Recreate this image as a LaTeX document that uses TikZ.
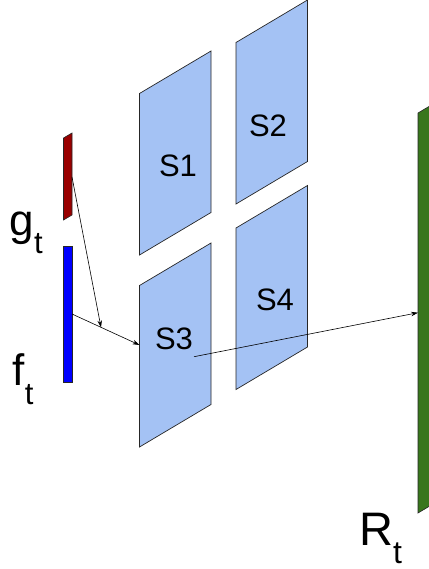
\documentclass[tikz,border=0pt]{standalone}
\usepackage{fontspec}
\setmainfont{Liberation Sans}
\usetikzlibrary{arrows.meta}
\definecolor{panelblue}{HTML}{A4C2F4}
\definecolor{redbar}{HTML}{990000}
\definecolor{bluebar}{HTML}{0000FF}
\definecolor{greenbar}{HTML}{38761D}
\begin{document}
\begin{tikzpicture}[x=1pt,y=-1pt,
  panel/.style={fill=panelblue, draw=black!85, line width=0.7pt},
  bar/.style={draw=black!85, line width=0.6pt},
  conn/.style={-{Stealth[length=7pt,width=4.5pt]}, line width=0.6pt},
  slabel/.style={inner sep=0pt, font=\fontsize{31}{31}\selectfont},
  biglabel/.style={inner sep=0pt, anchor=base west}]
\useasboundingbox (0,0) rectangle (428,569);
% panels
\draw[panel] (139.5,93.5) -- ++(71.5,-42.5) -- ++(0,161.5) -- ++(-71.5,42.5) -- cycle;
\draw[panel] (236,42.5) -- ++(71.5,-42.5) -- ++(0,161.5) -- ++(-71.5,42.5) -- cycle;
\draw[panel] (139.5,285.5) -- ++(71.5,-42.5) -- ++(0,161.5) -- ++(-71.5,42.5) -- cycle;
\draw[panel] (236,228) -- ++(71.5,-42.5) -- ++(0,161.5) -- ++(-71.5,42.5) -- cycle;
\node[slabel] (s1) at (178,166) {S1};
\node[slabel] (s2) at (268,126) {S2};
\node[slabel] (s3) at (174,339) {S3};
\node[slabel] (s4) at (275,300) {S4};
% bars
\draw[bar, fill=redbar] (63.5,138) -- (72,133) -- (72,215) -- (63.5,220) -- cycle;
\draw[bar, fill=bluebar] (63.5,246) rectangle (72,382);
\draw[bar, fill=greenbar] (418,113) -- (434,103.5) -- (434,503.5) -- (418,513) -- cycle;
% labels
\node[biglabel] (gt) at (9.5,235.5) {\fontsize{44}{44}\selectfont g\raisebox{-18pt}{\fontsize{31}{31}\selectfont t}};
\node[biglabel] (ft) at (12.5,385) {\fontsize{44}{44}\selectfont f\raisebox{-19pt}{\fontsize{31}{31}\selectfont t}};
\node[biglabel] (rt) at (359,545) {\fontsize{47}{47}\selectfont R\raisebox{-18pt}{\fontsize{32}{32}\selectfont t}};
% connectors
\coordinate (rsrc) at (72,177);
\coordinate (bsrc) at (72,314);
\coordinate (s3in) at (139.5,345);
\coordinate (mid) at (101,327.4);
\coordinate (s3out) at (194,356.7);
\coordinate (rin) at (418,312.7);
\draw[conn] (rsrc) -- (mid);
\draw[conn] (bsrc) -- (s3in);
\draw[conn] (s3out) -- (rin);
\end{tikzpicture}
\end{document}
